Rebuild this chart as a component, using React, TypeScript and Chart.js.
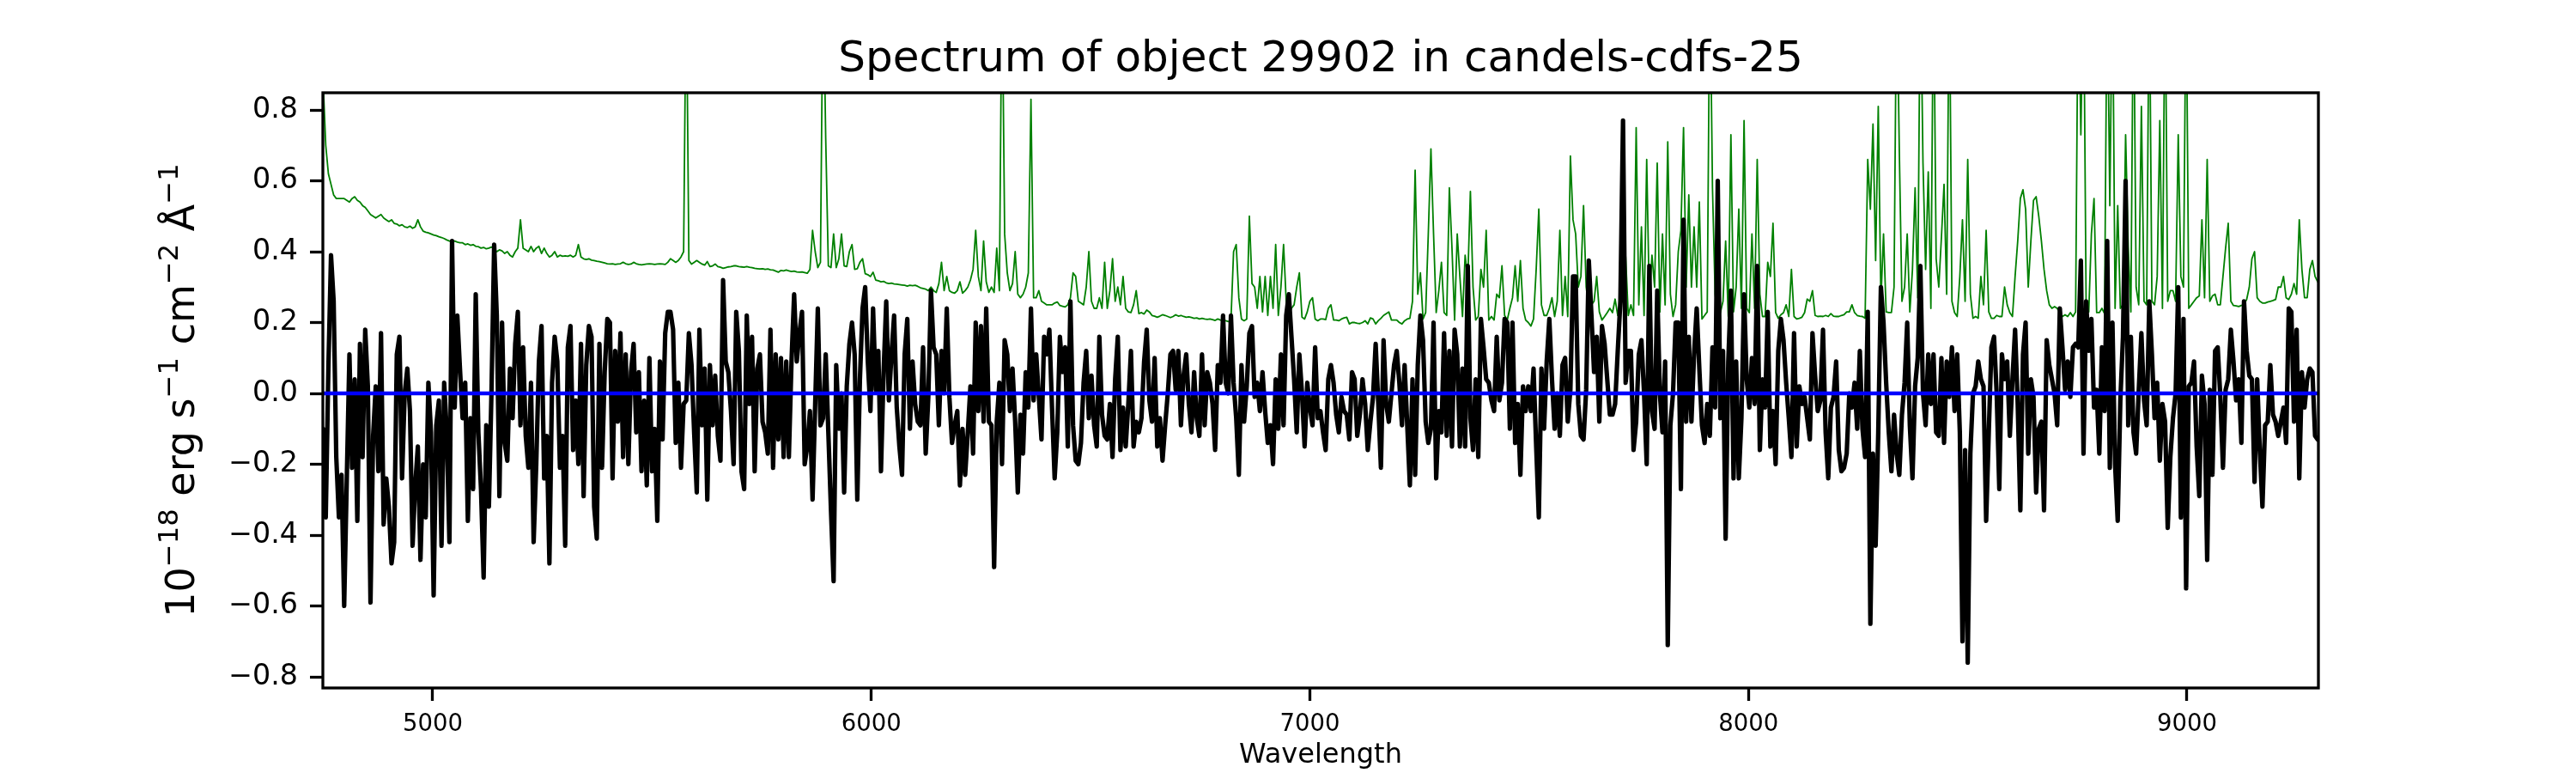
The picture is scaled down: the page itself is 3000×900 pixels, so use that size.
import { useEffect, useRef } from "react"
import { Chart, registerables, type Plugin } from "chart.js"

Chart.register(...registerables)

// sampling of the spectrum (Angstrom)
const WAVE_START = 4750
const WAVE_STEP = 6

const X_MIN = 4749.4
const X_MAX = 9299.6
const Y_MIN = -0.8315
const Y_MAX = 0.8485

const xTicks = [5000, 6000, 7000, 8000, 9000]
const yTicks = [-0.8, -0.6, -0.4, -0.2, 0, 0.2, 0.4, 0.6, 0.8]

// object flux, one value per 6 A
const flux4750 = [
  -0.10, -0.35, 0.07, 0.39, 0.26, -0.18, -0.35, -0.23, -0.60, -0.24,
  0.11, -0.21, 0.04, -0.36, 0.14, -0.18, 0.18, 0.02, -0.59, -0.12,
  0.02, -0.22, 0.17, -0.37, -0.24, -0.32, -0.48, -0.42, 0.11, 0.16,
  -0.24, 0.00, 0.07, -0.05, -0.43, -0.26, -0.15, -0.47, -0.20, -0.35,
  0.03, -0.11, -0.57, -0.09, -0.02, -0.43, 0.03, -0.11, -0.42, 0.43,
  -0.04, 0.22, 0.07, -0.07, 0.03, -0.36, -0.07, -0.27, 0.28, -0.11,
  -0.27, -0.52, -0.09, -0.32, 0.01, 0.42, 0.22, -0.29, 0.20, -0.14,
  -0.19, 0.07, -0.07, 0.14, 0.23, -0.09, 0.13, -0.12, -0.21, 0.03,
  -0.42, -0.20, 0.09, 0.19, -0.24, -0.12, -0.48, 0.03, 0.16, 0.09,
  -0.21, -0.12, -0.43, 0.13, 0.19, -0.16, -0.02, -0.20, 0.14, -0.29,
  0.08, 0.19, 0.16, -0.32, -0.41, 0.14, -0.21, 0.06, 0.21, 0.20,
  -0.24, 0.12, -0.08, 0.17, -0.18, 0.11, -0.20, 0.06, 0.14, -0.11,
  0.06, -0.22, -0.02, -0.26, 0.10, -0.22, -0.10, -0.36, 0.09, -0.13,
  0.17, 0.23,
]
const flux5542 = [
  0.23, 0.18, -0.14, 0.03, -0.21, -0.03, -0.02, 0.17, 0.08, -0.11,
  -0.28, 0.18, -0.09, 0.07, -0.30, 0.08, -0.09, 0.05, -0.12, -0.19,
  0.32, 0.09, 0.06, -0.05, -0.20, 0.23, 0.12, -0.22, -0.27, 0.22,
  -0.03, 0.16, -0.22, 0.07, 0.11, -0.08, -0.11, -0.17, 0.18, -0.21,
  0.11, -0.13, 0.10, -0.18, 0.09, -0.18, 0.09, 0.28, 0.09, 0.17,
  0.23, -0.20, -0.15, -0.05, -0.30, -0.03, 0.24, -0.09, -0.07, 0.11,
  -0.11, -0.33, -0.53, 0.08, -0.10, 0.00, -0.28, 0.02, 0.14, 0.20,
  0.11, -0.30, 0.04, 0.24, 0.30, 0.09, -0.05, 0.24, 0.01, 0.12,
  -0.22, 0.06, 0.26, -0.02, 0.11, 0.22, -0.04, -0.15, -0.23, 0.11,
  0.21, -0.10, 0.09, -0.03, -0.08, -0.09, 0.13, -0.17, -0.01, 0.29,
  0.13, 0.11, -0.09, 0.12, 0.00, 0.24, -0.01, -0.14, -0.09, -0.05,
  -0.26, -0.10, -0.23, -0.11, 0.02, -0.17, 0.20, -0.05, 0.19, -0.08,
  0.24, -0.08, -0.09, -0.49, -0.08, 0.03, -0.20, 0.15, 0.11, -0.05,
  0.07, -0.08, -0.28,
]
const flux6340 = [
  -0.06, -0.17, 0.06, -0.04, 0.24, -0.02, 0.11, -0.01, -0.13, 0.16,
  0.11, 0.18, -0.04, -0.24, -0.11, 0.16, 0.06, 0.13, -0.15, 0.26,
  -0.09, -0.19, -0.20, -0.14, 0.03, 0.12, -0.07, 0.05, -0.09, -0.15,
  0.16, -0.06, -0.12, -0.13, -0.03, -0.18, 0.04, 0.16, -0.16, -0.04,
  -0.15, -0.03, 0.12, -0.15, -0.08, -0.11, -0.07, 0.09, 0.18, -0.02,
  -0.08, 0.10, -0.15, -0.07, -0.19, -0.09, 0.00, 0.11, 0.12, 0.01,
  0.12, -0.09, 0.05, 0.11, -0.03, -0.11, 0.06, -0.07, -0.12, 0.11,
  -0.09, 0.06, 0.03, -0.03, -0.16, 0.08, 0.03, 0.22, 0.03, 0.00,
  0.22, 0.03, -0.07, -0.23, 0.08, -0.08, 0.02, 0.17, 0.19, -0.01,
  0.03, -0.05, 0.06, -0.05, -0.14, -0.09, -0.20, 0.04, -0.10, 0.11,
  -0.09, 0.22, 0.28, 0.16, 0.04, -0.11, 0.11, 0.00, -0.15, 0.03,
  -0.04, -0.09, 0.13, -0.07, -0.05, -0.11, -0.16, 0.04, 0.08, 0.03,
  -0.06, -0.11, -0.01, -0.05, -0.06, -0.13, 0.06, 0.04, -0.12, -0.06,
  0.04, -0.03, -0.16, -0.08,
]
const flux7144 = [
  -0.01, 0.14, -0.03, -0.21, 0.15, -0.03, -0.08, 0.00, 0.08, 0.12,
  0.03, -0.09, 0.08, -0.09, -0.26, 0.04, -0.23, 0.08, 0.22, 0.15,
  -0.08, -0.14, -0.10, 0.20, -0.24, -0.05, -0.11, 0.17, -0.12, 0.12,
  -0.15, 0.18, 0.11, -0.15, 0.07, -0.15, 0.36, -0.07, -0.16, 0.04,
  -0.18, 0.21, 0.13, 0.04, 0.03, -0.02, -0.05, 0.16, -0.02, 0.03,
  0.21, 0.20, -0.10, 0.20, -0.14, -0.03, -0.23, 0.02, -0.05, 0.02,
  -0.05, 0.07, -0.15, -0.35, 0.07, -0.10, 0.09, 0.21, 0.04, -0.10,
  0.00, -0.12, 0.08, 0.10, -0.08, 0.01, 0.33, 0.33, -0.03, -0.12,
  -0.13, 0.01, 0.375, 0.22, 0.06, 0.16, -0.08, 0.19, 0.14, 0.04,
  -0.06, -0.06, -0.03, 0.12, 0.26, 0.77, 0.03, 0.12, 0.12, -0.16,
  -0.08, 0.11, 0.15, 0.00, -0.20, 0.36, -0.05, -0.10, 0.29, 0.00,
  -0.11, 0.09, -0.71, -0.09, 0.00, 0.20, 0.20, -0.27, 0.49, -0.08,
  0.16, -0.08, 0.11, 0.24, 0.07, -0.09, -0.14, -0.03, -0.12, 0.13,
  -0.04, 0.60, -0.07,
]
const flux7942 = [
  0.12, -0.41, 0.09, 0.29, -0.24, 0.09, -0.24, -0.07, 0.28, 0.04,
  -0.04, 0.10, -0.03, 0.36, -0.16, 0.04, -0.04, 0.23, -0.15, -0.05,
  -0.20, 0.12, 0.21, 0.15, 0.03, -0.07, -0.18, 0.17, -0.15, 0.02,
  -0.03, -0.01, -0.07, -0.13, 0.17, 0.05, -0.05, -0.02, 0.18, -0.11,
  -0.24, -0.04, -0.01, 0.09, -0.16, -0.22, -0.21, -0.17, 0.00, -0.04,
  0.03, -0.10, 0.12, -0.10, -0.18, 0.23, -0.65, -0.17, -0.43, -0.11,
  0.30, 0.20, 0.03, -0.11, -0.22, -0.06, -0.17, -0.23, -0.06, 0.03,
  0.20, -0.09, -0.24, 0.02, 0.10, 0.36, 0.00, -0.09, 0.11, -0.03,
  0.11, -0.11, -0.12, 0.10, -0.14, 0.09, -0.01, 0.13, -0.05, 0.11,
  -0.11, -0.70, -0.16, -0.76, -0.17, 0.00, 0.02, 0.09, 0.04, 0.02,
  -0.36, -0.11, 0.13, 0.16, 0.00, -0.27, 0.11, 0.04, 0.09, -0.12,
  0.04, 0.18, -0.03, -0.33, 0.11, 0.20, -0.17, 0.04, -0.01, -0.28,
  -0.10, -0.08, -0.33, 0.15, 0.08, 0.04, 0.00, -0.09, 0.24, 0.13,
  0.01, 0.09, -0.01, 0.13,
]
const flux8746 = [
  0.14, 0.13, 0.375, -0.17, 0.26, 0.12, 0.21, -0.04, 0.01, -0.17,
  0.13, -0.05, 0.43, -0.21, 0.20, -0.20, -0.36, -0.02, 0.16, 0.60,
  -0.09, 0.16, -0.11, -0.17, 0.01, 0.17, -0.02, -0.09, 0.26, 0.11,
  -0.07, 0.03, -0.19, -0.03, -0.08, -0.38, -0.18, -0.07, 0.00, 0.30,
  -0.35, 0.21, -0.55, 0.02, 0.03, 0.09, -0.15, -0.29, 0.05, -0.03,
  -0.47, 0.01, -0.23, 0.12, 0.13, -0.01, -0.21, 0.01, 0.04, 0.18,
  0.09, -0.02, 0.04, -0.14, 0.26, 0.12, 0.05, 0.04, -0.25, 0.04,
  -0.16, -0.32, -0.09, -0.08, 0.08, -0.06, -0.08, -0.12, -0.08, -0.04,
  -0.14, 0.24, 0.23, -0.08, 0.18, -0.24, 0.06, -0.04, 0.04, 0.07,
  0.06, -0.12, -0.13,
]

// sky / noise spectrum (green), same sampling
const sky4750 = [
  0.88, 0.70, 0.62, 0.59, 0.56, 0.55, 0.55, 0.55, 0.55, 0.545,
  0.54, 0.55, 0.555, 0.545, 0.54, 0.53, 0.525, 0.515, 0.505, 0.50,
  0.495, 0.50, 0.505, 0.495, 0.49, 0.485, 0.49, 0.48, 0.478, 0.473,
  0.476, 0.47, 0.468, 0.472, 0.466, 0.47, 0.49, 0.47, 0.458, 0.455,
  0.453, 0.45, 0.447, 0.445, 0.442, 0.44, 0.437, 0.433, 0.43, 0.428,
  0.43, 0.427, 0.425, 0.425, 0.42, 0.422, 0.418, 0.42, 0.415, 0.414,
  0.41, 0.412, 0.408, 0.41, 0.413, 0.408, 0.40, 0.405, 0.402, 0.395,
  0.40, 0.39, 0.385, 0.40, 0.41, 0.49, 0.41, 0.405, 0.40, 0.415,
  0.40, 0.41, 0.415, 0.395, 0.41, 0.395, 0.385, 0.39, 0.40, 0.385,
  0.39, 0.387, 0.388, 0.387, 0.39, 0.385, 0.39, 0.42, 0.385, 0.38,
  0.378, 0.38, 0.376, 0.375, 0.373, 0.372, 0.37, 0.368, 0.366, 0.365,
  0.366, 0.364, 0.365, 0.366, 0.37, 0.366, 0.364, 0.365, 0.37, 0.366,
  0.364, 0.363, 0.364, 0.365, 0.366, 0.365, 0.364, 0.365, 0.366, 0.365,
  0.364, 0.37,
]
const sky5542 = [
  0.38, 0.375, 0.37, 0.375, 0.385, 0.40, 1.2, 0.375, 0.365, 0.37,
  0.375, 0.37, 0.365, 0.362, 0.372, 0.358, 0.36, 0.365, 0.358, 0.356,
  0.353, 0.355, 0.357, 0.358, 0.36, 0.36, 0.358, 0.357, 0.356, 0.358,
  0.356, 0.355, 0.353, 0.352, 0.351, 0.352, 0.35, 0.351, 0.349, 0.348,
  0.345, 0.342, 0.347, 0.346, 0.348, 0.346, 0.344, 0.345, 0.343, 0.342,
  0.343, 0.341, 0.339, 0.35, 0.46, 0.40, 0.355, 0.37, 1.2, 0.72,
  0.36, 0.355, 0.45, 0.355, 0.38, 0.45, 0.36, 0.358, 0.40, 0.42,
  0.35, 0.352, 0.37, 0.38, 0.338, 0.335, 0.33, 0.342, 0.32, 0.318,
  0.315, 0.316, 0.312, 0.31, 0.311, 0.309, 0.308, 0.307, 0.306, 0.305,
  0.303, 0.305, 0.304, 0.305, 0.302, 0.298, 0.296, 0.294, 0.29, 0.30,
  0.29, 0.285, 0.31, 0.37, 0.29, 0.33, 0.29, 0.285, 0.283, 0.29,
  0.315, 0.283, 0.29, 0.30, 0.32, 0.35, 0.46, 0.33, 0.29, 0.43,
  0.315, 0.285, 0.30, 0.285, 0.41, 0.29, 1.2, 0.45, 0.34, 0.29,
  0.31, 0.40, 0.28,
]
const sky6340 = [
  0.27, 0.28, 0.30, 0.34, 0.83, 0.27, 0.27, 0.29, 0.26, 0.255,
  0.25, 0.25, 0.25, 0.255, 0.258, 0.248, 0.246, 0.244, 0.25, 0.27,
  0.34, 0.33, 0.26, 0.255, 0.25, 0.30, 0.40, 0.26, 0.24, 0.24,
  0.27, 0.24, 0.37, 0.24, 0.29, 0.38, 0.26, 0.30, 0.25, 0.33,
  0.24, 0.23, 0.228, 0.25, 0.29, 0.225, 0.228, 0.224, 0.235, 0.23,
  0.22, 0.218, 0.215, 0.218, 0.222, 0.22, 0.217, 0.214, 0.217, 0.222,
  0.218, 0.22, 0.217, 0.215, 0.216, 0.214, 0.212, 0.213, 0.21, 0.212,
  0.21, 0.209, 0.21, 0.208, 0.206, 0.21, 0.207, 0.205, 0.205, 0.203,
  0.205, 0.40, 0.42, 0.27, 0.21, 0.205, 0.21, 0.50, 0.31, 0.30,
  0.24, 0.33, 0.23, 0.33, 0.22, 0.33, 0.24, 0.42, 0.22, 0.30,
  0.42, 0.26, 0.22, 0.24, 0.25, 0.30, 0.34, 0.215, 0.21, 0.23,
  0.26, 0.27, 0.21, 0.205, 0.21, 0.21, 0.208, 0.24, 0.25, 0.207,
  0.207, 0.205, 0.21, 0.213, 0.215, 0.196, 0.20, 0.20, 0.198, 0.197,
  0.20, 0.205, 0.196, 0.213,
]
const sky7144 = [
  0.21, 0.196, 0.205, 0.212, 0.22, 0.225, 0.23, 0.207, 0.207, 0.207,
  0.20, 0.196, 0.205, 0.21, 0.212, 0.26, 0.63, 0.28, 0.34, 0.21,
  0.228, 0.45, 0.69, 0.45, 0.228, 0.29, 0.37, 0.228, 0.22, 0.58,
  0.41, 0.207, 0.45, 0.33, 0.217, 0.39, 0.32, 0.57, 0.30, 0.207,
  0.217, 0.35, 0.30, 0.46, 0.207, 0.217, 0.207, 0.28, 0.27, 0.36,
  0.22, 0.207, 0.24, 0.27, 0.36, 0.26, 0.375, 0.24, 0.207, 0.20,
  0.19, 0.21, 0.35, 0.52, 0.25, 0.22, 0.22, 0.24, 0.27, 0.217,
  0.26, 0.46, 0.22, 0.33, 0.217, 0.67, 0.49, 0.45, 0.30, 0.33,
  0.53, 0.30, 0.24, 0.25, 0.26, 0.33, 0.23, 0.207, 0.217, 0.228,
  0.24, 0.228, 0.266, 0.22, 0.26, 0.27, 0.386, 0.22, 0.25, 0.22,
  0.75, 0.25, 0.47, 0.22, 0.66, 0.26, 0.39, 0.30, 0.65, 0.23,
  0.45, 0.25, 0.71, 0.28, 0.217, 0.25, 0.40, 0.46, 0.75, 0.30,
  0.56, 0.30, 0.47, 0.30, 0.54, 0.21, 0.22, 0.23, 1.2, 0.58,
  0.28, 0.217, 0.228,
]
const sky7942 = [
  0.26, 0.43, 0.217, 0.73, 0.23, 0.30, 0.52, 0.24, 0.77, 0.24,
  0.228, 0.45, 0.24, 0.66, 0.28, 0.217, 0.217, 0.37, 0.33, 0.48,
  0.228, 0.212, 0.222, 0.228, 0.25, 0.217, 0.35, 0.217, 0.21, 0.212,
  0.215, 0.228, 0.266, 0.26, 0.29, 0.22, 0.217, 0.218, 0.217, 0.22,
  0.217, 0.225, 0.218, 0.217, 0.217, 0.22, 0.222, 0.23, 0.23, 0.25,
  0.228, 0.22, 0.218, 0.217, 0.212, 0.66, 0.52, 0.76, 0.375, 0.81,
  0.26, 0.45, 0.23, 0.228, 0.228, 0.30, 1.2, 0.685, 0.26, 0.30,
  0.45, 0.23, 0.35, 0.58, 0.27, 1.2, 0.65, 0.35, 0.625, 0.24,
  1.2, 0.38, 0.30, 0.44, 0.59, 0.28, 1.2, 0.26, 0.228, 0.217,
  0.33, 0.49, 0.26, 0.66, 0.28, 0.212, 0.217, 0.212, 0.33, 0.25,
  0.46, 0.23, 0.212, 0.212, 0.22, 0.217, 0.217, 0.30, 0.25, 0.228,
  0.217, 0.33, 0.43, 0.55, 0.575, 0.52, 0.30, 0.43, 0.545, 0.555,
  0.50, 0.43, 0.35, 0.29, 0.25, 0.24, 0.245, 0.24, 0.228, 0.217,
  0.222, 0.217, 0.228, 0.217,
]
const sky8746 = [
  0.23, 1.2, 0.73, 1.2, 0.25, 0.23, 0.45, 0.55, 0.228, 0.228,
  0.24, 0.225, 1.2, 0.53, 1.2, 0.24, 0.53, 0.24, 0.25, 0.73,
  0.415, 0.23, 1.2, 0.30, 0.25, 0.81, 0.26, 0.25, 1.2, 0.26,
  0.25, 0.33, 0.77, 0.24, 1.2, 0.26, 0.29, 0.29, 0.26, 0.73,
  0.33, 0.30, 1.2, 0.24, 0.25, 0.26, 0.27, 0.275, 0.49, 0.27,
  0.66, 0.26, 0.275, 0.28, 0.25, 0.25, 0.33, 0.41, 0.48, 0.26,
  0.248, 0.247, 0.245, 0.248, 0.25, 0.265, 0.30, 0.38, 0.40, 0.27,
  0.26, 0.255, 0.255, 0.258, 0.26, 0.262, 0.265, 0.30, 0.30, 0.33,
  0.27, 0.265, 0.28, 0.31, 0.28, 0.49, 0.35, 0.27, 0.27, 0.35,
  0.375, 0.33, 0.315,
]

const flux = [...flux4750, ...flux5542, ...flux6340, ...flux7144, ...flux7942, ...flux8746]
const sky = [...sky4750, ...sky5542, ...sky6340, ...sky7144, ...sky7942, ...sky8746]
const wavelength = flux.map((_, i) => WAVE_START + i * WAVE_STEP)
const zeroLevel = 0

const FONT = "'DejaVu Sans', 'Liberation Sans', sans-serif"

const yLabelParts = [
  { text: "10", sup: false },
  { text: "\u221218", sup: true },
  { text: " erg s", sup: false },
  { text: "\u22121", sup: true },
  { text: " cm", sup: false },
  { text: "\u22122", sup: true },
  { text: " \u00c5", sup: false },
  { text: "\u22121", sup: true },
]

const decorations: Plugin<"line"> = {
  id: "decorations",
  afterDraw(chart) {
    const { ctx, chartArea: a } = chart
    ctx.save()
    // axes frame
    ctx.strokeStyle = "#000"
    ctx.lineWidth = 3.3
    ctx.strokeRect(a.left, a.top, a.right - a.left, a.bottom - a.top)

    ctx.fillStyle = "#000"
    const cx = (a.left + a.right) / 2

    ctx.font = `50px ${FONT}`
    ctx.textAlign = "center"
    ctx.textBaseline = "alphabetic"
    ctx.fillText("Spectrum of object 29902 in candels-cdfs-25", cx, 83)

    ctx.font = `32px ${FONT}`
    ctx.fillText("Wavelength", cx, 888)

    // y label with superscripts, rotated
    const size = 46
    const supSize = size * 0.7
    ctx.translate(226, (a.top + a.bottom) / 2)
    ctx.rotate(-Math.PI / 2)
    ctx.textAlign = "left"
    let total = 0
    for (const p of yLabelParts) {
      ctx.font = `${p.sup ? supSize : size}px ${FONT}`
      total += ctx.measureText(p.text).width
    }
    let x = -total / 2
    for (const p of yLabelParts) {
      ctx.font = `${p.sup ? supSize : size}px ${FONT}`
      ctx.fillText(p.text, x, p.sup ? -size * 0.42 : 0)
      x += ctx.measureText(p.text).width
    }
    ctx.restore()
  },
}

function formatY(v: number) {
  return v.toFixed(1).replace("-", "\u2212")
}

export default function App() {
  const canvasRef = useRef<HTMLCanvasElement>(null)

  useEffect(() => {
    if (!canvasRef.current) return

    const chart = new Chart(canvasRef.current, {
      type: "line",
      data: {
        datasets: [
          {
            data: [
              { x: X_MIN, y: zeroLevel },
              { x: X_MAX, y: zeroLevel },
            ],
            borderColor: "#0000ff",
            borderWidth: 4.5,
            pointRadius: 0,
          },
          {
            data: wavelength.map((w, i) => ({ x: w, y: flux[i] })),
            borderColor: "#000000",
            borderWidth: 5.2,
            pointRadius: 0,
          },
          {
            data: wavelength.map((w, i) => ({ x: w, y: sky[i] })),
            borderColor: "#008000",
            borderWidth: 1.8,
            pointRadius: 0,
          },
        ],
      },
      options: {
        animation: false,
        responsive: false,
        devicePixelRatio: 1,
        events: [],
        parsing: false,
        normalized: true,
        layout: { padding: { top: 108, right: 300, left: 0, bottom: 0 } },
        elements: { line: { tension: 0, borderJoinStyle: "round", borderCapStyle: "round" } },
        plugins: {
          legend: { display: false },
          tooltip: { enabled: false },
          title: { display: false },
        },
        scales: {
          x: {
            type: "linear",
            min: X_MIN,
            max: X_MAX,
            afterBuildTicks: (scale) => {
              scale.ticks = xTicks.map((value) => ({ value }))
            },
            afterFit: (scale) => {
              scale.height = 99
            },
            border: { display: false },
            grid: {
              drawOnChartArea: false,
              drawTicks: true,
              tickLength: 15,
              tickWidth: 3.3,
              tickColor: "#000",
            },
            ticks: {
              color: "#000",
              font: { family: FONT, size: 27.5 },
              padding: 11,
              maxRotation: 0,
              autoSkip: false,
              callback: (v) => String(v),
            },
          },
          y: {
            type: "linear",
            min: Y_MIN,
            max: Y_MAX,
            afterBuildTicks: (scale) => {
              scale.ticks = yTicks.map((value) => ({ value }))
            },
            afterFit: (scale) => {
              scale.width = 376
            },
            border: { display: false },
            grid: {
              drawOnChartArea: false,
              drawTicks: true,
              tickLength: 15,
              tickWidth: 3.3,
              tickColor: "#000",
            },
            ticks: {
              color: "#000",
              font: { family: FONT, size: 33.3 },
              padding: 14,
              autoSkip: false,
              callback: (v) => formatY(Number(v)),
            },
          },
        },
      },
      plugins: [decorations],
    })

    return () => chart.destroy()
  }, [])

  return (
    <div style={{ position: "absolute", left: 0, top: 0, width: 3000, height: 900, background: "#fff" }}>
      <canvas ref={canvasRef} width={3000} height={900} style={{ display: "block" }} />
    </div>
  )
}
